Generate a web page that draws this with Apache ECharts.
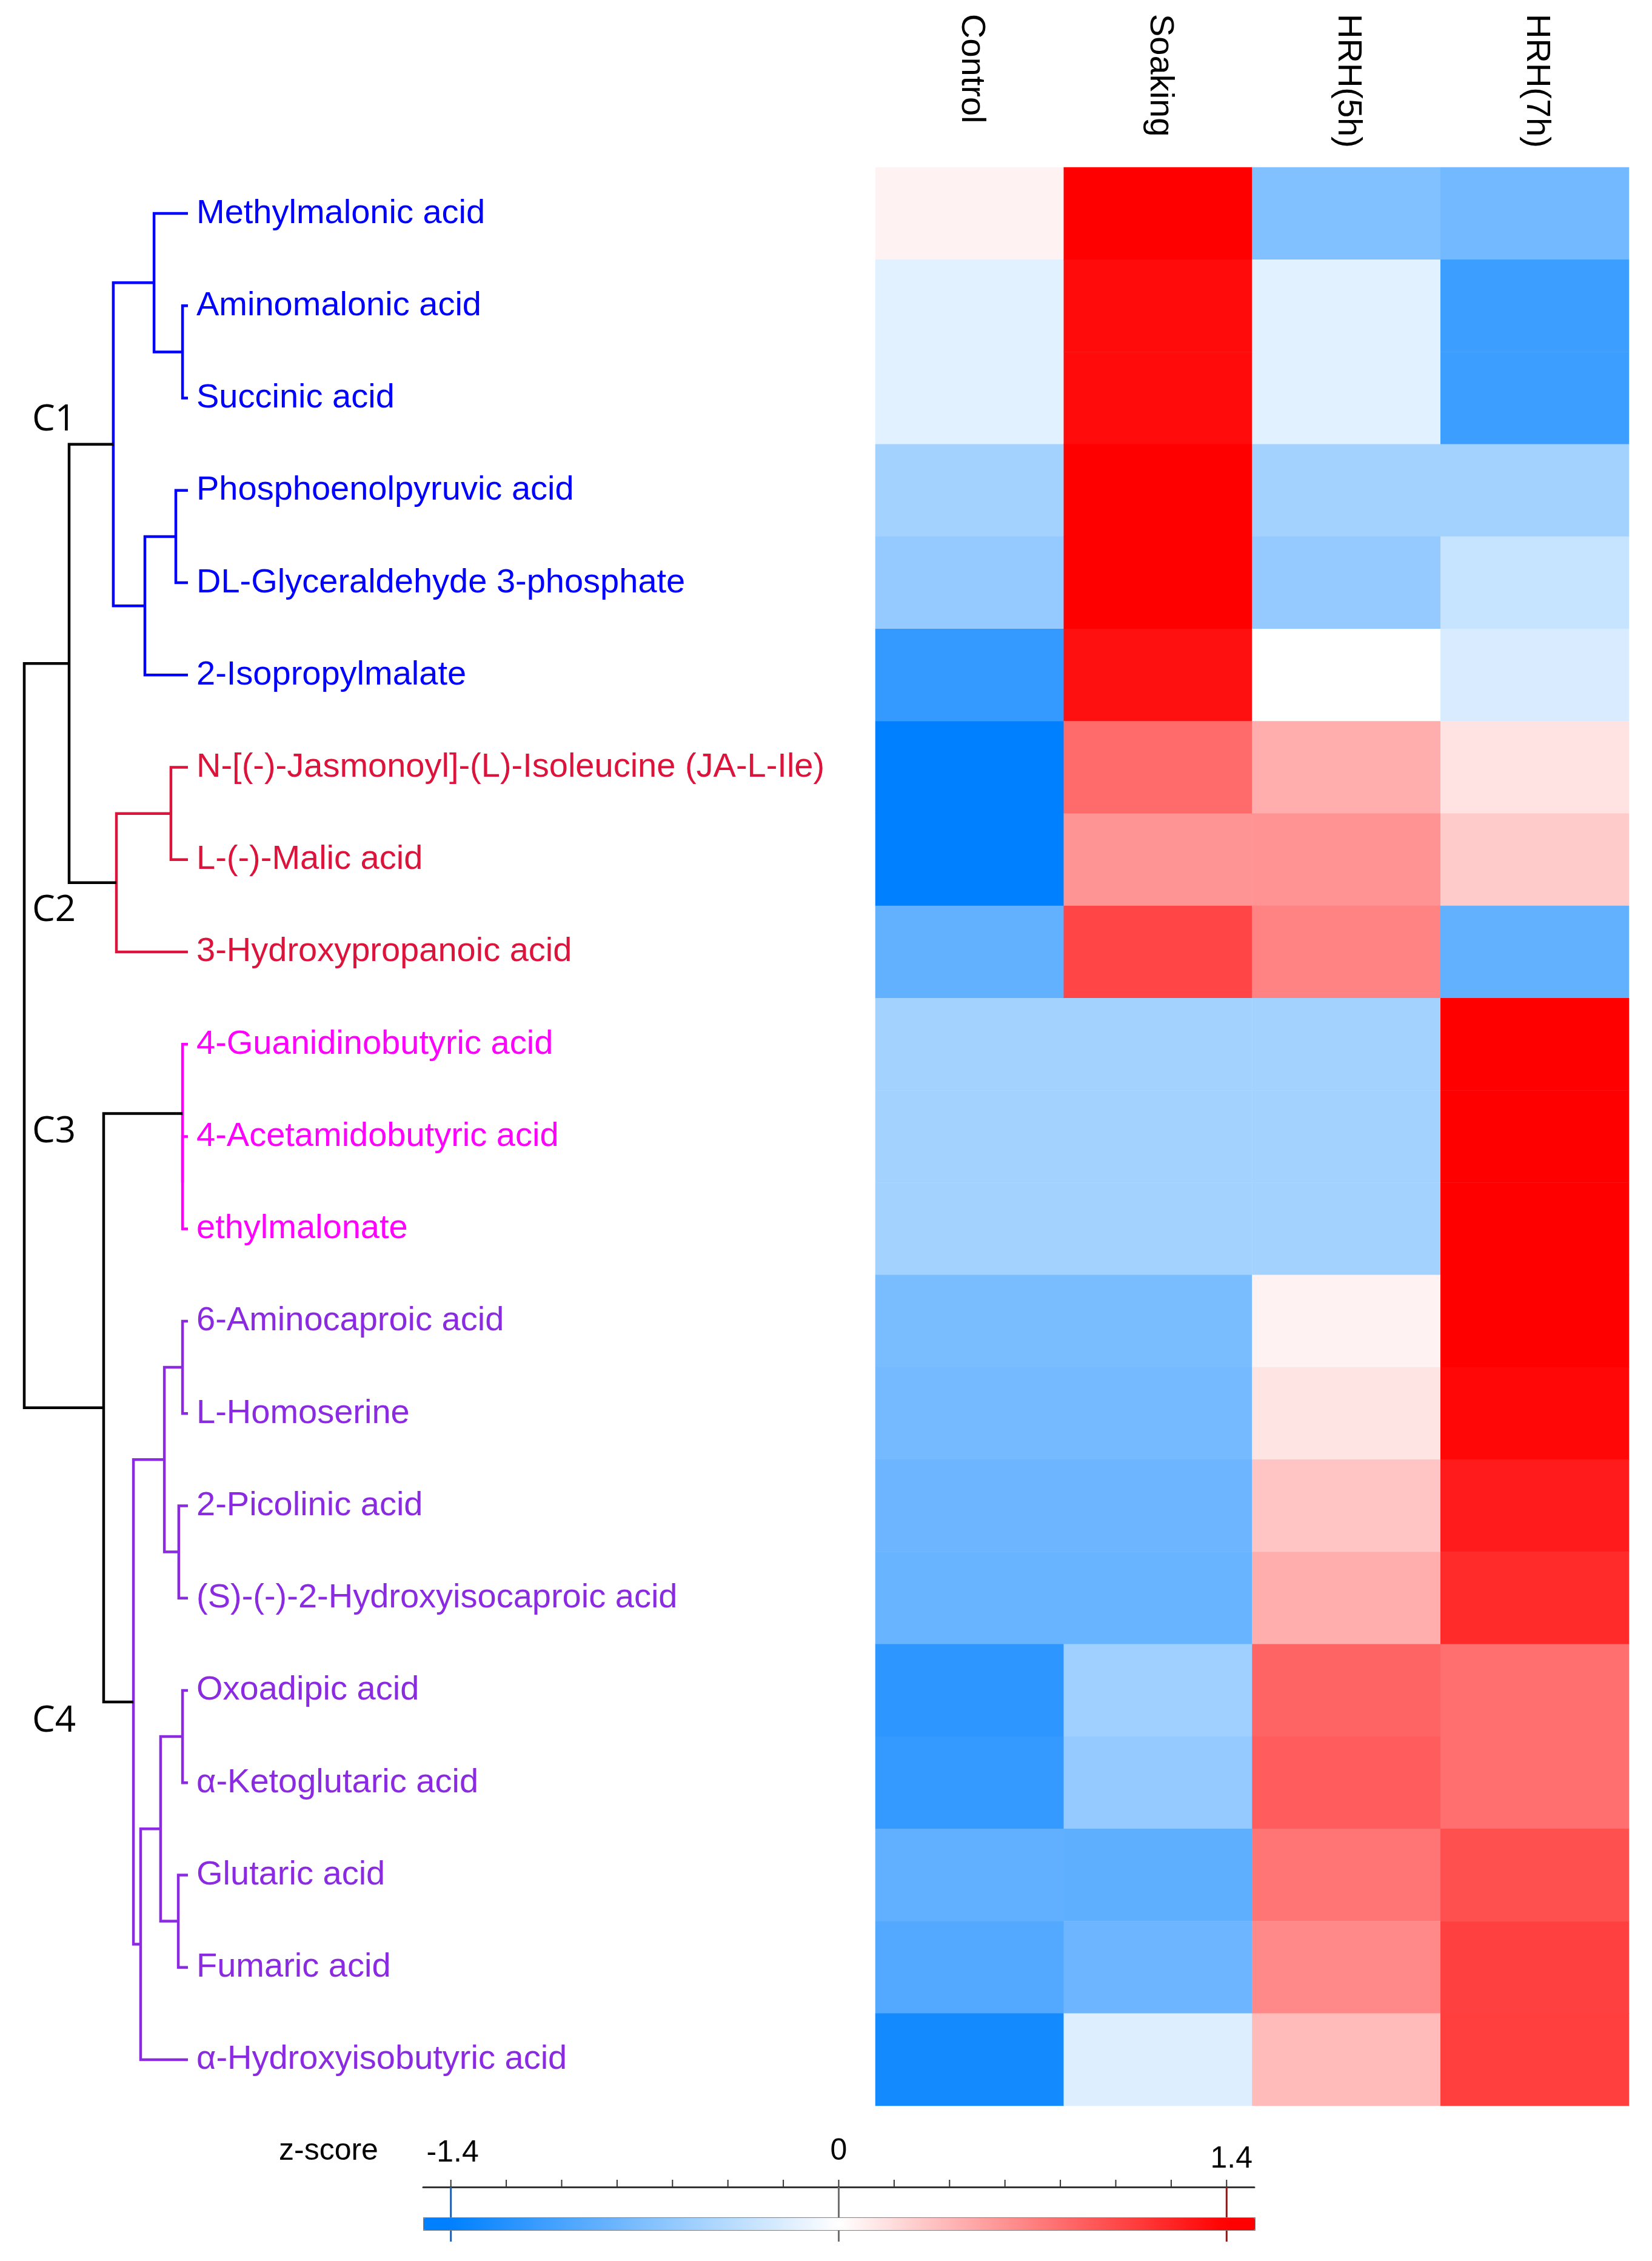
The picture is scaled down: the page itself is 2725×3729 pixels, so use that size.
<!DOCTYPE html>
<html><head><meta charset="utf-8">
<script src="https://cdn.jsdelivr.net/npm/echarts@6/dist/echarts.min.js"></script>
<style>html,body{margin:0;padding:0;background:#fff}#c{width:2725px;height:3729px}</style>
</head><body><div id="c"></div>
<script>
// ---------------- data ----------------
const groups = ['Control', 'Soaking', 'HRH(5h)', 'HRH(7h)'];
const metabolites = [
  'Methylmalonic acid', 'Aminomalonic acid', 'Succinic acid', 'Phosphoenolpyruvic acid',
  'DL-Glyceraldehyde 3-phosphate', '2-Isopropylmalate',
  'N-[(-)-Jasmonoyl]-(L)-Isoleucine (JA-L-Ile)', 'L-(-)-Malic acid', '3-Hydroxypropanoic acid',
  '4-Guanidinobutyric acid', '4-Acetamidobutyric acid', 'ethylmalonate',
  '6-Aminocaproic acid', 'L-Homoserine', '2-Picolinic acid', '(S)-(-)-2-Hydroxyisocaproic acid',
  'Oxoadipic acid', 'α-Ketoglutaric acid', 'Glutaric acid', 'Fumaric acid', 'α-Hydroxyisobutyric acid'
];
const leafCluster = [0,0,0,0,0,0, 1,1,1, 2,2,2, 3,3,3,3,3,3,3,3,3];
const clusterNames = ['C1', 'C2', 'C3', 'C4'];

const zControl = [0.07,-0.16,-0.16,-0.50,-0.59,-1.11,-1.45,-1.48,-0.86,-0.50,-0.50,-0.50,-0.73,-0.76,-0.80,-0.82,-1.15,-1.11,-0.87,-0.95,-1.29];
const zSoaking = [1.40,1.34,1.34,1.50,1.49,1.31,0.81,0.59,1.02,-0.50,-0.50,-0.50,-0.73,-0.76,-0.80,-0.82,-0.52,-0.59,-0.88,-0.80,-0.19];
const zHRH5    = [-0.69,-0.16,-0.16,-0.50,-0.59,0.00,0.45,0.60,0.68,-0.50,-0.50,-0.50,0.07,0.15,0.32,0.45,0.85,0.89,0.76,0.65,0.38];
const zHRH7    = [-0.77,-1.07,-1.07,-0.50,-0.31,-0.21,0.16,0.29,-0.86,1.50,1.50,1.50,1.40,1.36,1.25,1.17,0.79,0.79,0.96,1.05,1.06];

// hierarchical clustering merges: [childA, childB, height]; leaves 0..20, new nodes from 21
const merges = [
  [1, 2, 0.33],   // 21
  [0, 21, 2.07],  // 22
  [3, 4, 0.74],   // 23
  [23, 5, 2.63],  // 24
  [22, 24, 4.56], // 25 C1
  [6, 7, 1.04],   // 26
  [26, 8, 4.37],  // 27 C2
  [25, 27, 7.26], // 28
  [10, 11, 0.33], // 29
  [9, 29, 0.33],  // 30 C3
  [12, 13, 0.33], // 31
  [14, 15, 0.56], // 32
  [31, 32, 1.44], // 33
  [16, 17, 0.33], // 34
  [18, 19, 0.59], // 35
  [34, 35, 1.67], // 36
  [36, 20, 2.89], // 37
  [33, 37, 3.33], // 38 C4
  [30, 38, 5.15], // 39
  [28, 39, 10.0]  // 40 root
];

const colorbarTicks = [-1.4,-1.2,-1.0,-0.8,-0.6,-0.4,-0.2,0,0.2,0.4,0.6,0.8,1.0,1.2,1.4];
const colorbarLabelValues = [-1.4, 0, 1.4];
const colorbarLabels = ['-1.4', '0', '1.4'];
const colorbarTitle = 'z-score';

// ---------------- styles ----------------
const clusterColors = ['#0000ff', '#dc143c', '#ff00ff', '#8a2be2'];
const clusterLabelDy = [-40, 46, 30, 32];
const markerColors = ['#1d5fae', '#707070', '#8b1a1a'];
const labelDy = [-56, -59, -46];
const labelDx = [3, 0, 8];
const FONT = "'Liberation Sans', Arial, sans-serif";
const HEADER_Y = 23;

function zColor(v) {
  const t = Math.min(Math.abs(v) / 1.4, 1);
  let r, g, b;
  if (v < 0) { r = 255 * (1 - t); g = 255 - 127 * t; b = 255; }
  else { r = 255; g = 255 * (1 - t); b = 255 * (1 - t); }
  return 'rgb(' + Math.round(r) + ',' + Math.round(g) + ',' + Math.round(b) + ')';
}
const vmStops = [];
for (let i = 0; i <= 30; i++) vmStops.push(zColor(-1.5 + i * 0.1));

// ---------------- build ----------------
const cols = [zControl, zSoaking, zHRH5, zHRH7];
const heatData = [];
cols.forEach((arr, c) => arr.forEach((v, r) => heatData.push([c, r, v])));

const nLeaf = metabolites.length;
const nodeH = [], nodeY = [], nodeC = [];
for (let i = 0; i < nLeaf; i++) { nodeH[i] = 0; nodeY[i] = i + 0.5; nodeC[i] = leafCluster[i]; }
merges.forEach(([a, b, h], k) => {
  const id = nLeaf + k;
  nodeH[id] = h; nodeY[id] = (nodeY[a] + nodeY[b]) / 2;
  nodeC[id] = (nodeC[a] === nodeC[b]) ? nodeC[a] : -1;
});
const dendroData = merges.map(([a, b, h], k) => [nodeH[a], nodeY[a], h, nodeY[b], nodeH[b], nodeC[nLeaf + k]]);
const clusterRoot = [];
merges.forEach(([a, b], k) => {
  if (nodeC[nLeaf + k] === -1) {
    [a, b].forEach(ch => { if (nodeC[ch] >= 0) clusterRoot[nodeC[ch]] = ch; });
  }
});
const clusterLabelData = clusterNames.map((n, i) => [9.52, nodeY[clusterRoot[i]], i]);

const TOP = 276, H = 3197;

const chart = echarts.init(document.getElementById('c'), null, { renderer: 'canvas' });
chart.setOption({
  backgroundColor: '#fff',
  animation: false,
  grid: [
    { left: 1444, right: 38, top: TOP, height: H, outerBoundsMode: 'none' },
    { left: 40, width: 270, top: TOP, height: H, outerBoundsMode: 'none' },
    { left: 698, width: 1371, top: 3607, height: 90, outerBoundsMode: 'none' }
  ],
  xAxis: [
    { gridIndex: 0, type: 'category', data: groups, position: 'top',
      axisLine: { show: false }, axisTick: { show: false }, splitLine: { show: false },
      axisLabel: { show: false } },
    { gridIndex: 1, type: 'value', min: 0, max: 10, inverse: true, show: false },
    { gridIndex: 2, type: 'value', min: -1.5, max: 1.5, position: 'top',
      axisLine: { show: true, onZero: false, lineStyle: { color: '#333', width: 3 } },
      axisTick: { show: false }, axisLabel: { show: false }, splitLine: { show: false } }
  ],
  yAxis: [
    { gridIndex: 0, type: 'category', data: metabolites, inverse: true,
      axisLine: { show: false }, axisTick: { show: false }, splitLine: { show: false },
      axisLabel: { align: 'left', margin: 1120, interval: 0, fontSize: 56, fontFamily: FONT,
        color: (v, i) => clusterColors[leafCluster[i]] } },
    { gridIndex: 1, type: 'value', min: 0, max: 21, inverse: true, show: false },
    { gridIndex: 2, type: 'value', min: 0, max: 1, show: false }
  ],
  visualMap: {
    type: 'continuous', seriesIndex: 0, dimension: 2, min: -1.5, max: 1.5,
    orient: 'horizontal', left: 698, top: 3657, itemWidth: 20, itemHeight: 1371,
    calculable: false, realtime: false, padding: 0, text: null, showLabel: false,
    borderColor: '#808080', borderWidth: 2,
    inRange: { color: vmStops }
  },
  graphic: [
    { type: 'text', left: 460, top: 3553 - 30,
      style: { text: colorbarTitle, fontSize: 50, fontFamily: FONT, fill: '#000' } }
  ],
  series: [
    { type: 'heatmap', xAxisIndex: 0, yAxisIndex: 0, data: heatData,
      itemStyle: { borderWidth: 0 }, emphasis: { disabled: true }, progressive: 0 },
    { type: 'custom', xAxisIndex: 0, yAxisIndex: 0, data: groups.map((g, i) => [i, 0]), silent: true,
      renderItem: (p, api) => {
        const pt = api.coord([api.value(0), 0]);
        return { type: 'text', x: pt[0] + 3, y: HEADER_Y, rotation: -Math.PI / 2,
          style: { text: groups[p.dataIndex], fontSize: 56, fontFamily: FONT, fill: '#000',
            textAlign: 'left', textVerticalAlign: 'middle' } };
      } },
    { type: 'custom', xAxisIndex: 1, yAxisIndex: 1, data: dendroData, silent: true,
      renderItem: (p, api) => {
        const p1 = api.coord([api.value(0), api.value(1)]);
        const p2 = api.coord([api.value(2), api.value(1)]);
        const p3 = api.coord([api.value(2), api.value(3)]);
        const p4 = api.coord([api.value(4), api.value(3)]);
        const ci = api.value(5);
        return { type: 'polyline', shape: { points: [p1, p2, p3, p4] },
          style: { stroke: ci < 0 ? '#000' : clusterColors[ci], lineWidth: 4.5, fill: null } };
      } },
    { type: 'custom', xAxisIndex: 1, yAxisIndex: 1, data: clusterLabelData, silent: true,
      renderItem: (p, api) => {
        const pt = api.coord([api.value(0), api.value(1)]);
        const i = api.value(2);
        return { type: 'text', x: pt[0], y: pt[1] + clusterLabelDy[i],
          style: { text: clusterNames[i], fontSize: 60, fontFamily: "'Open Sans', sans-serif", fill: '#000',
            textAlign: 'left', textVerticalAlign: 'middle' } };
      } },
    { type: 'custom', xAxisIndex: 2, yAxisIndex: 2, data: colorbarTicks.map(v => [v, 1]), silent: true,
      renderItem: (p, api) => {
        const pt = api.coord([api.value(0), 1]);
        return { type: 'line', shape: { x1: pt[0], y1: pt[1], x2: pt[0], y2: pt[1] - 12 },
          style: { stroke: '#333', lineWidth: 2 } };
      } },
    { type: 'custom', xAxisIndex: 2, yAxisIndex: 2, data: colorbarLabelValues.map((v, i) => [v, 1, i]), silent: true,
      renderItem: (p, api) => {
        const a = api.coord([api.value(0), 1]);
        const b = api.coord([api.value(0), 0]);
        const i = api.value(2);
        return { type: 'group', children: [
          { type: 'line', shape: { x1: a[0], y1: a[1], x2: b[0], y2: b[1] },
            style: { stroke: markerColors[i], lineWidth: 3 } },
          { type: 'text', x: a[0] + labelDx[i], y: a[1] + labelDy[i],
            style: { text: colorbarLabels[i], fontSize: 50, fontFamily: FONT, fill: '#000',
              textAlign: 'center', textVerticalAlign: 'middle' } }
        ] };
      } }
  ]
});
</script></body></html>
